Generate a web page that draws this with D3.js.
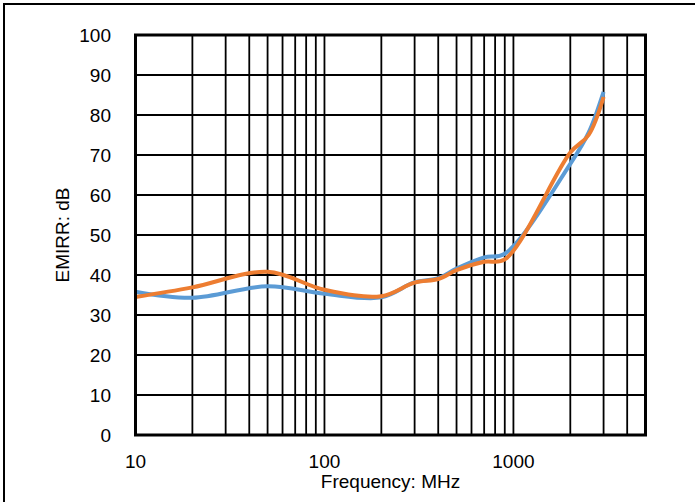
<!DOCTYPE html>
<html>
<head>
<meta charset="utf-8">
<script src="https://cdn.jsdelivr.net/npm/d3@7"></script>
<style>
  html, body { margin: 0; padding: 0; background: #fff; }
  svg { display: block; }
  text { font-family: Arial, "Liberation Sans", sans-serif; fill: #000; }
</style>
</head>
<body>
<svg id="chart" width="695" height="502"></svg>
<script>
// ---- Data ----
const frequencies = [10, 20, 50, 100, 200, 300, 400, 500, 700, 900, 2000, 2500, 3000];
const seriesBlue   = [35.8, 34.3, 37.2, 35.3, 34.4, 38.2, 39.2, 41.6, 44.4, 45.3, 67.8, 75.6, 85.8];
const seriesOrange = [34.5, 36.9, 40.8, 36.3, 34.7, 38.1, 39.0, 41.2, 43.3, 43.9, 70.6, 75.0, 84.5];
const xTickLabels = [10, 100, 1000];
const yTickLabels = [0, 10, 20, 30, 40, 50, 60, 70, 80, 90, 100];
const xLabel = "Frequency: MHz";
const yLabel = "EMIRR: dB";

// ---- Layout ----
const svg = d3.select("#chart");
const plot = { left: 135.5, right: 645.5, top: 35, bottom: 435 };

const x = d3.scaleLog().domain([10, 5000]).range([plot.left, plot.right]);
const y = d3.scaleLinear().domain([0, 100]).range([plot.bottom, plot.top]);

// outer frame (right/bottom edges fall outside the canvas)
svg.append("rect")
  .attr("x", 4).attr("y", 4).attr("width", 720).attr("height", 520)
  .attr("fill", "none").attr("stroke", "#000").attr("stroke-width", 2);

// vertical grid lines (log)
const xGrid = [];
for (let d = 10; d < 5000; d *= 10) {
  for (let m = 1; m <= 9; m++) {
    const v = d * m;
    if (v > 10 && v < 5000) xGrid.push(v);
  }
}
const g = svg.append("g");
g.selectAll("line.xg").data(xGrid).join("line")
  .attr("class", "xg")
  .attr("x1", d => x(d)).attr("x2", d => x(d))
  .attr("y1", plot.top).attr("y2", plot.bottom)
  .attr("stroke", "#000").attr("stroke-width", 1.8);

g.selectAll("line.yg").data(yTickLabels.filter(v => v > 0 && v < 100)).join("line")
  .attr("class", "yg")
  .attr("x1", plot.left).attr("x2", plot.right)
  .attr("y1", d => y(d)).attr("y2", d => y(d))
  .attr("stroke", "#000").attr("stroke-width", 1.8);

// series
const line = d3.line()
  .x((d, i) => x(frequencies[i]))
  .y(d => y(d))
  .curve(d3.curveCatmullRom.alpha(0.5));

svg.append("path").datum(seriesBlue)
  .attr("d", line).attr("fill", "none")
  .attr("stroke", "#5B9BD5").attr("stroke-width", 4).attr("stroke-linejoin", "round");
svg.append("path").datum(seriesOrange)
  .attr("d", line).attr("fill", "none")
  .attr("stroke", "#ED7D31").attr("stroke-width", 4).attr("stroke-linejoin", "round");

// plot border
svg.append("rect")
  .attr("x", plot.left).attr("y", plot.top)
  .attr("width", plot.right - plot.left).attr("height", plot.bottom - plot.top)
  .attr("fill", "none").attr("stroke", "#000").attr("stroke-width", 3);

// y tick labels
svg.append("g").selectAll("text").data(yTickLabels).join("text")
  .attr("x", 111).attr("y", d => y(d) + 7)
  .attr("text-anchor", "end")
  .style("font-size", "19px")
  .text(d => d);

// x tick labels
svg.append("g").selectAll("text").data(xTickLabels).join("text")
  .attr("x", d => x(d)).attr("y", 468)
  .attr("text-anchor", "middle")
  .style("font-size", "19px")
  .text(d => d);

// axis titles
svg.append("text")
  .attr("x", (plot.left + plot.right) / 2).attr("y", 488)
  .attr("text-anchor", "middle")
  .style("font-size", "19px")
  .text(xLabel);

svg.append("text")
  .attr("transform", `translate(69, ${(plot.top + plot.bottom) / 2}) rotate(-90)`)
  .attr("text-anchor", "middle")
  .style("font-size", "19px")
  .text(yLabel);
</script>
</body>
</html>
